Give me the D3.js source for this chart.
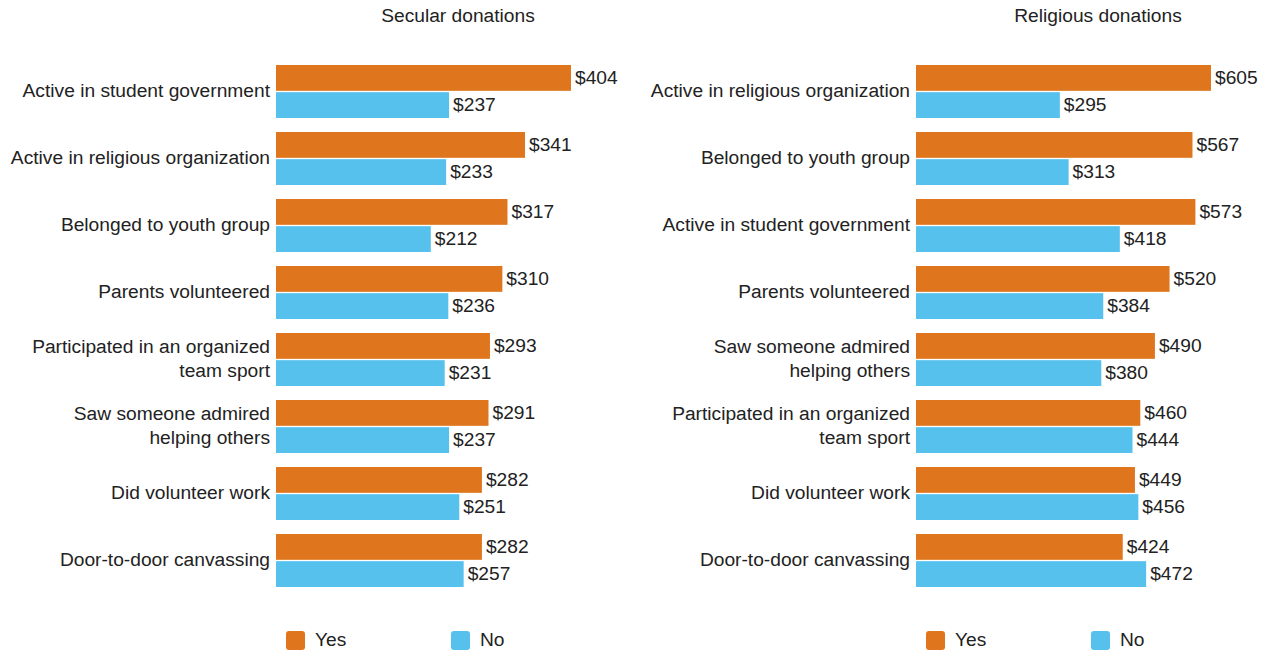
<!DOCTYPE html>
<html>
<head>
<meta charset="utf-8">
<script src="https://cdn.jsdelivr.net/npm/d3@7"></script>
<style>
  body { margin: 0; background: #fff; }
  svg text { font-family: "Liberation Sans", Arial, sans-serif; fill: #222; }
</style>
</head>
<body>
<div id="chart"></div>
<script>
// data
var secularCats = ["Active in student government", "Active in religious organization", "Belonged to youth group", "Parents volunteered", "Participated in an organized|team sport", "Saw someone admired|helping others", "Did volunteer work", "Door-to-door canvassing"];
var secularYes = [404, 341, 317, 310, 293, 291, 282, 282];
var secularNo = [237, 233, 212, 236, 231, 237, 251, 257];

var religiousCats = ["Active in religious organization", "Belonged to youth group", "Active in student government", "Parents volunteered", "Saw someone admired|helping others", "Participated in an organized|team sport", "Did volunteer work", "Door-to-door canvassing"];
var religiousYes = [605, 567, 573, 520, 490, 460, 449, 424];
var religiousNo = [295, 313, 418, 384, 380, 444, 456, 472];

var seriesNames = ["Yes", "No"];
var colors = {Yes: "#DF761D", No: "#55C1EC"};

var width = 1270, height = 653,
fontSize = "19.2px";

var svg = d3.select("#chart").append("svg")
  .attr("width", width)
  .attr("height", height);

function drawPanel(left, title, cats, yes, no) {
  var g = svg.append("g").attr("transform", "translate(" + left + ",0)");

  var rows = cats.map(function(c, i) {
    return {cat: c, Yes: yes[i], No: no[i]};
  });

  var x = d3.scaleLinear()
    .domain([0, d3.max(yes.concat(no))])
    .range([0, 295]);

  var y = d3.scaleBand()
    .domain(cats)
    .range([51, 601])
    .paddingInner(0.209)
    .paddingOuter(0.209);

  var y1 = d3.scaleBand()
    .domain(seriesNames)
    .range([0, y.bandwidth()])
    .paddingInner(0.05);

  // title
  g.append("text")
    .attr("x", 182)
    .attr("y", 16)
    .attr("dy", "0.33em")
    .attr("text-anchor", "middle")
    .style("font-size", fontSize)
    .text(title);

  var group = g.selectAll(".grp").data(rows).enter().append("g")
    .attr("class", "grp")
    .attr("transform", function(d) { return "translate(0," + y(d.cat) + ")"; });

  group.selectAll("rect")
    .data(function(d) { return seriesNames.map(function(k) { return {key: k, value: d[k]}; }); })
    .enter().append("rect")
    .attr("x", 0)
    .attr("y", function(d) { return y1(d.key); })
    .attr("width", function(d) { return x(d.value); })
    .attr("height", y1.bandwidth())
    .attr("fill", function(d) { return colors[d.key]; });

  group.selectAll(".val")
    .data(function(d) { return seriesNames.map(function(k) { return {key: k, value: d[k]}; }); })
    .enter().append("text")
    .attr("class", "val")
    .attr("x", function(d) { return x(d.value) + 4; })
    .attr("y", function(d) { return y1(d.key) + y1.bandwidth() / 2; })
    .attr("dy", "0.32em")
    .style("font-size", fontSize)
    .text(function(d) { return "$" + d.value; });

  // category labels, split on "|"
  var lab = group.append("text")
    .attr("x", -6)
    .attr("y", y.bandwidth() / 2)
    .attr("text-anchor", "end")
    .style("font-size", fontSize);

  lab.each(function(d) {
    var parts = d.cat.split("|");
    var t = d3.select(this);
    parts.forEach(function(p, i) {
      t.append("tspan")
        .attr("x", -6)
        .attr("y", y.bandwidth() / 2 + (i - (parts.length - 1) / 2) * 23.5)
        .attr("dy", "0.28em")
        .text(p);
    });
  });

  // legend
  var leg = g.selectAll(".leg").data(seriesNames).enter().append("g")
    .attr("class", "leg")
    .attr("transform", function(d, i) { return "translate(" + (10 + i * 165) + ",631)"; });

  leg.append("rect")
    .attr("width", 19)
    .attr("height", 19)
    .attr("rx", 3)
    .attr("fill", function(d) { return colors[d]; });

  leg.append("text")
    .attr("x", 29)
    .attr("y", 9.5)
    .attr("dy", "0.28em")
    .style("font-size", fontSize)
    .text(function(d) { return d; });
}

drawPanel(276, "Secular donations", secularCats, secularYes, secularNo);
drawPanel(916, "Religious donations", religiousCats, religiousYes, religiousNo);
</script>
</body>
</html>
